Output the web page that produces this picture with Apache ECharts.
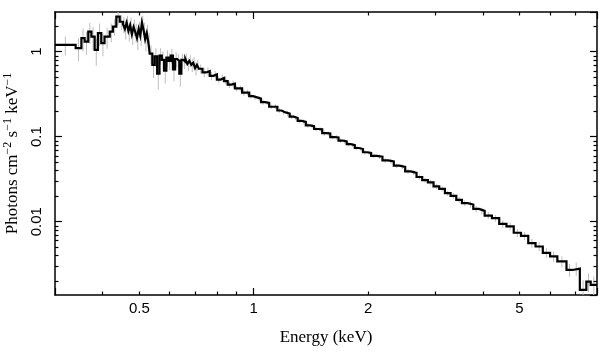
<!DOCTYPE html>
<html><head><meta charset="utf-8">
<script src="https://cdn.jsdelivr.net/npm/echarts@6/dist/echarts.min.js"></script>
<style>html,body{margin:0;padding:0;background:#fff}#c{width:609px;height:357px}</style>
</head><body><div id="c"></div>
<script>
// Bin edges (keV)
const binEdges = [
0.300,0.340,0.352,0.359,0.367,0.374,0.3815,0.389,0.397,0.405,
0.418,0.426,0.435,0.444,
0.453,0.458,0.463,0.468,0.473,0.478,0.483,0.488,0.493,0.498,0.503,0.508,0.513,0.518,0.523,0.528,
0.5325,0.541,0.549,0.557,0.565,0.573,0.581,0.589,0.597,0.605,0.613,0.621,0.629,0.637,0.645,0.653,0.661,0.669,0.677,0.685,0.693,0.701,0.709,
0.717,0.733,0.749,0.766,0.783,0.800,0.818,0.836,0.854,0.873,0.892,0.912,0.932,0.952,0.973,
0.995,1.020,1.045,1.071,1.098,1.126,1.154,1.183,1.212,1.243,1.274,1.305,1.338,1.371,1.406,1.441,1.477,1.514,1.552,1.590,1.630,1.671,1.713,1.756,1.800,1.845,1.891,1.938,1.986,
2.036,2.107,2.181,2.257,2.336,2.418,2.503,2.590,2.681,2.775,2.872,2.972,3.076,3.184,3.295,3.411,3.530,3.654,3.781,3.914,
4.051,4.233,4.424,4.623,4.831,5.048,5.275,5.513,5.761,6.020,6.291,6.650,6.900,7.210,7.500,7.700,
8.0];
// Flux per bin (photons cm^-2 s^-1 keV^-1)
const fluxValues = [
1.20,1.10,1.44,1.31,1.72,1.50,1.05,1.65,1.26,1.50,
1.72,1.97,2.58,2.25,
2.10,1.85,2.20,1.75,2.05,1.60,1.95,1.70,1.45,1.85,1.55,2.20,1.80,1.40,1.65,1.30,
0.95,0.70,0.88,0.55,0.90,0.80,0.60,0.85,0.78,0.90,0.62,0.82,0.78,0.55,0.80,0.76,0.82,0.72,0.78,0.70,0.74,0.64,0.70,
0.63,0.57,0.59,0.52,0.54,0.47,0.49,0.45,0.41,0.42,0.37,0.37,0.33,0.33,0.30,
0.29,0.28,0.255,0.25,0.225,0.225,0.203,0.193,0.187,0.172,0.166,0.153,0.149,0.136,0.133,0.123,0.122,0.110,0.109,0.099,0.098,0.090,0.088,0.0815,0.0795,0.0735,0.0715,0.0655,0.0645,
0.0595,0.0580,0.0525,0.0510,0.0455,0.0440,0.0390,0.0375,0.0335,0.0308,0.0290,0.0260,0.0243,0.0216,0.0201,0.0180,0.0165,0.0159,0.0141,0.0134,
0.0118,0.0110,0.0094,0.0088,0.0074,0.0068,0.0056,0.0051,0.0043,0.0039,0.0034,0.0027,0.0028,0.00157,0.00197,0.00180];
// Relative 1-sigma errors per bin
const relErrors = [
0.25,0.30,0.30,0.30,0.28,0.30,0.35,0.30,0.30,0.28,
0.25,0.22,0.20,0.20,
0.22,0.25,0.20,0.25,0.22,0.25,0.22,0.25,0.28,0.22,0.25,0.20,0.22,0.28,0.25,0.28,
0.25,0.30,0.25,0.35,0.22,0.25,0.30,0.22,0.22,0.20,0.28,0.20,0.20,0.30,0.18,0.18,0.16,0.18,0.16,0.18,0.16,0.18,0.15,
0.12,0.12,0.11,0.11,0.10,0.10,0.10,0.09,0.09,0.09,0.08,0.08,0.08,0.08,0.07,
0.07,0.06,0.07,0.06,0.06,0.07,0.06,0.06,0.07,0.06,0.06,0.06,0.07,0.06,0.06,0.06,0.06,0.07,0.06,0.06,0.06,0.06,0.06,0.06,0.06,0.06,0.06,0.06,0.06,
0.06,0.06,0.06,0.06,0.06,0.065,0.065,0.065,0.07,0.07,0.07,0.07,0.075,0.075,0.08,0.08,0.08,0.085,0.085,0.09,
0.09,0.09,0.10,0.10,0.11,0.11,0.12,0.12,0.13,0.14,0.15,0.17,0.18,0.30,0.25,0.25];

const xRange = [0.3, 8.0];
const yRange = [0.00137, 2.93];
const xTickLabelValues = [0.5, 1, 2, 5];
const xTickLabels = ['0.5', '1', '2', '5'];
const xMinorTicks = [0.4, 0.5, 0.6, 0.7, 0.8, 0.9, 2, 3, 4, 5, 6, 7];
const yTickLabels = ['0.01', '0.1', '1'];
const yMinorTicks = [0.002,0.003,0.004,0.005,0.006,0.007,0.008,0.009,
                     0.02,0.03,0.04,0.05,0.06,0.07,0.08,0.09,
                     0.2,0.3,0.4,0.5,0.6,0.7,0.8,0.9,2];

const n = Math.min(fluxValues.length, binEdges.length - 1, relErrors.length);
const stepData = [];
for (let i = 0; i < n; i++) stepData.push([binEdges[i], fluxValues[i]]);
stepData.push([binEdges[n], fluxValues[n - 1]]);
const errData = [];
for (let i = 0; i < n; i++) {
  const xc = Math.sqrt(binEdges[i] * binEdges[i + 1]);
  errData.push([xc, fluxValues[i] * (1 - relErrors[i]), fluxValues[i] * (1 + relErrors[i])]);
}

const AX = { color: '#000', width: 1.5 };
const TK = { color: '#000', width: 1.2 };
const MINOR = 3.5, MAJOR = 7;
const sansFont = '"Liberation Sans", Arial, sans-serif';
const serifFont = '"Liberation Serif", "Times New Roman", serif';

function yLabelFmt(v) {
  const k = Math.round(Math.log10(v));
  if (Math.abs(Math.log10(v) - k) > 1e-6) return '';
  return yTickLabels[k + 2] || '';
}

const chart = echarts.init(document.getElementById('c'), null, { renderer: 'canvas' });
chart.setOption({
  animation: false,
  backgroundColor: '#fff',
  grid: { left: 55, right: 12, top: 12, bottom: 62, outerBoundsMode: 'none' },
  xAxis: [
    { type: 'log', logBase: 10, min: xRange[0], max: xRange[1], position: 'bottom',
      axisLine: { show: true, onZero: false, lineStyle: AX },
      axisTick: { show: true, inside: true, length: MAJOR, lineStyle: TK },
      axisLabel: { show: false }, splitLine: { show: false }, minorTick: { show: false },
      name: 'Energy (keV)', nameLocation: 'middle', nameGap: 34,
      nameTextStyle: { fontFamily: serifFont, fontSize: 17, color: '#000' } },
    { type: 'log', logBase: 10, min: xRange[0], max: xRange[1], position: 'top',
      axisLine: { show: true, onZero: false, lineStyle: AX },
      axisTick: { show: true, inside: true, length: MAJOR, lineStyle: TK },
      axisLabel: { show: false }, splitLine: { show: false } }
  ],
  yAxis: [
    { type: 'log', logBase: 10, min: yRange[0], max: yRange[1], position: 'left',
      axisLine: { show: true, onZero: false, lineStyle: AX },
      axisTick: { show: true, inside: true, length: MAJOR, lineStyle: TK },
      axisLabel: { show: true, rotate: 90, margin: 11, formatter: yLabelFmt,
        showMinLabel: false, showMaxLabel: false,
        fontFamily: sansFont, fontSize: 15, color: '#000' },
      splitLine: { show: false },
      name: '{a|Photons cm}{s|−2}{a| s}{s|−1}{a| keV}{s|−1}',
      nameLocation: 'middle', nameGap: 24, nameRotate: 90,
      nameTextStyle: { color: '#000',
        rich: {
          a: { fontFamily: serifFont, fontSize: 17, lineHeight: 19, verticalAlign: 'bottom', color: '#000' },
          s: { fontFamily: serifFont, fontSize: 12, lineHeight: 12, verticalAlign: 'top', color: '#000' }
        } } },
    { type: 'log', logBase: 10, min: yRange[0], max: yRange[1], position: 'right',
      axisLine: { show: true, onZero: false, lineStyle: AX },
      axisTick: { show: true, inside: true, length: MAJOR, lineStyle: TK },
      axisLabel: { show: false }, splitLine: { show: false } }
  ],
  series: [
    { type: 'custom', name: 'errors', xAxisIndex: 0, yAxisIndex: 0, z: 1, clip: true,
      data: errData,
      encode: { x: 0, y: [1, 2] },
      renderItem: function (params, api) {
        const x = api.value(0);
        const p1 = api.coord([x, api.value(1)]);
        const p2 = api.coord([x, api.value(2)]);
        return { type: 'line', shape: { x1: p1[0], y1: p1[1], x2: p2[0], y2: p2[1] },
                 style: { stroke: '#bdbdbd', lineWidth: 1 } };
      } },
    { type: 'line', name: 'spectrum', xAxisIndex: 0, yAxisIndex: 0, z: 2,
      data: stepData, step: 'end', symbol: 'none', clip: true,
      lineStyle: { color: '#000', width: 2.2, join: 'miter' } },
    { type: 'custom', name: 'ticks', xAxisIndex: 0, yAxisIndex: 0, z: 3, silent: true,
      data: [[1, 0.1]],
      renderItem: function (params, api) {
        const cs = params.coordSys;
        const left = cs.x, right = cs.x + cs.width, top = cs.y, bottom = cs.y + cs.height;
        const ls = { stroke: '#000', lineWidth: 1.2 };
        const ch = [];
        xMinorTicks.forEach(function (v) {
          const px = Math.round(api.coord([v, 1])[0]) + 0.5;
          ch.push({ type: 'line', shape: { x1: px, y1: bottom, x2: px, y2: bottom - MINOR }, style: ls });
          ch.push({ type: 'line', shape: { x1: px, y1: top, x2: px, y2: top + MINOR }, style: ls });
        });
        yMinorTicks.forEach(function (v) {
          const py = Math.round(api.coord([1, v])[1]) + 0.5;
          ch.push({ type: 'line', shape: { x1: left, y1: py, x2: left + MINOR, y2: py }, style: ls });
          ch.push({ type: 'line', shape: { x1: right, y1: py, x2: right - MINOR, y2: py }, style: ls });
        });
        xTickLabelValues.forEach(function (v, i) {
          const px = api.coord([v, 1])[0];
          ch.push({ type: 'text', style: { text: xTickLabels[i], x: px, y: bottom + 14,
            align: 'center', verticalAlign: 'middle', font: '15px ' + sansFont, fill: '#000' } });
        });
        return { type: 'group', children: ch };
      } }
  ]
});
</script></body></html>
